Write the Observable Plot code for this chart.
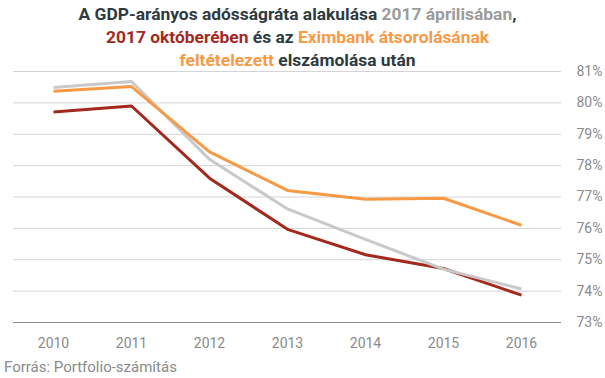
<!DOCTYPE html>
<html>
<head>
<meta charset="utf-8">
<script src="https://cdn.jsdelivr.net/npm/d3@7"></script>
<script src="https://cdn.jsdelivr.net/npm/@observablehq/plot@0.6"></script>
<style>
  html, body { margin: 0; padding: 0; background: #fff; }
  #wrap { position: relative; width: 605px; height: 378px; overflow: hidden; font-family: Roboto, "Noto Sans", sans-serif; }
  #title { position: absolute; left: 0; top: 3px; width: 595px; text-align: center; font-weight: 700; font-size: 17.4px; line-height: 23px; color: #2e3a40; z-index: 2; }
  #caption { position: absolute; left: 4px; top: 358px; font-size: 15px; color: #8a8a8a; }
  #chart { position: absolute; left: 0; top: 0; }
</style>
</head>
<body>
<div id="wrap">
  <div id="title">A GDP-arányos adósságráta alakulása <span style="color:#9b9b9b">2017 áprilisában</span>,<br><span style="color:#a3291c">2017 októberében</span> és az <span style="color:#f89a45">Eximbank átsorolásának</span><br><span style="color:#f89a45">feltételezett</span> elszámolása után</div>
  <div id="chart"></div>
  <div id="caption">Forrás: Portfolio-számítás</div>
</div>
<script>
const years = [2010, 2011, 2012, 2013, 2014, 2015, 2016];
const april = [80.49, 80.68, 78.2, 76.62, 75.65, 74.7, 74.07];
const october = [79.71, 79.9, 77.6, 75.97, 75.16, 74.72, 73.87];
const eximbank = [80.37, 80.52, 78.44, 77.21, 76.93, 76.96, 76.1];
const yTicks = [73, 74, 75, 76, 77, 78, 79, 80, 81];

const series = [
  {name: "2017 október", values: october, color: "#a3291c"},
  {name: "2017 április", values: april, color: "#c9c9c9"},
  {name: "Eximbank", values: eximbank, color: "#f89a45"}
];
const data = series.flatMap(s => years.map((y, i) => ({series: s.name, year: y, value: s.values[i], color: s.color})));

const chart = Plot.plot({
  width: 605,
  height: 378,
  marginTop: 71,
  marginBottom: 56,
  marginLeft: 13,
  marginRight: 44,
  style: {fontFamily: "Roboto, sans-serif", background: "transparent"},
  x: {type: "point", domain: years, padding: 0.5, label: null},
  y: {domain: [73, 81], label: null},
  marks: [
    Plot.ruleY(yTicks.filter(d => d > 73), {stroke: "#d4d4d4", strokeWidth: 1}),
    Plot.ruleY([73], {stroke: "#8c8c8c", strokeWidth: 1.2}),
    Plot.axisX({tickSize: 0, tickPadding: 16, fontSize: 14, color: "#8a8a8a", tickFormat: d => String(d), label: null}),
    Plot.axisY({anchor: "right", ticks: yTicks, tickSize: 0, tickPadding: 15, fontSize: 14, color: "#8a8a8a", tickFormat: d => d + "%", label: null}),
    Plot.line(data, {x: "year", y: "value", z: "series", stroke: "color", strokeWidth: 3, strokeLinejoin: "miter", strokeLinecap: "butt"})
  ]
});
document.getElementById("chart").appendChild(chart);
</script>
</body>
</html>
